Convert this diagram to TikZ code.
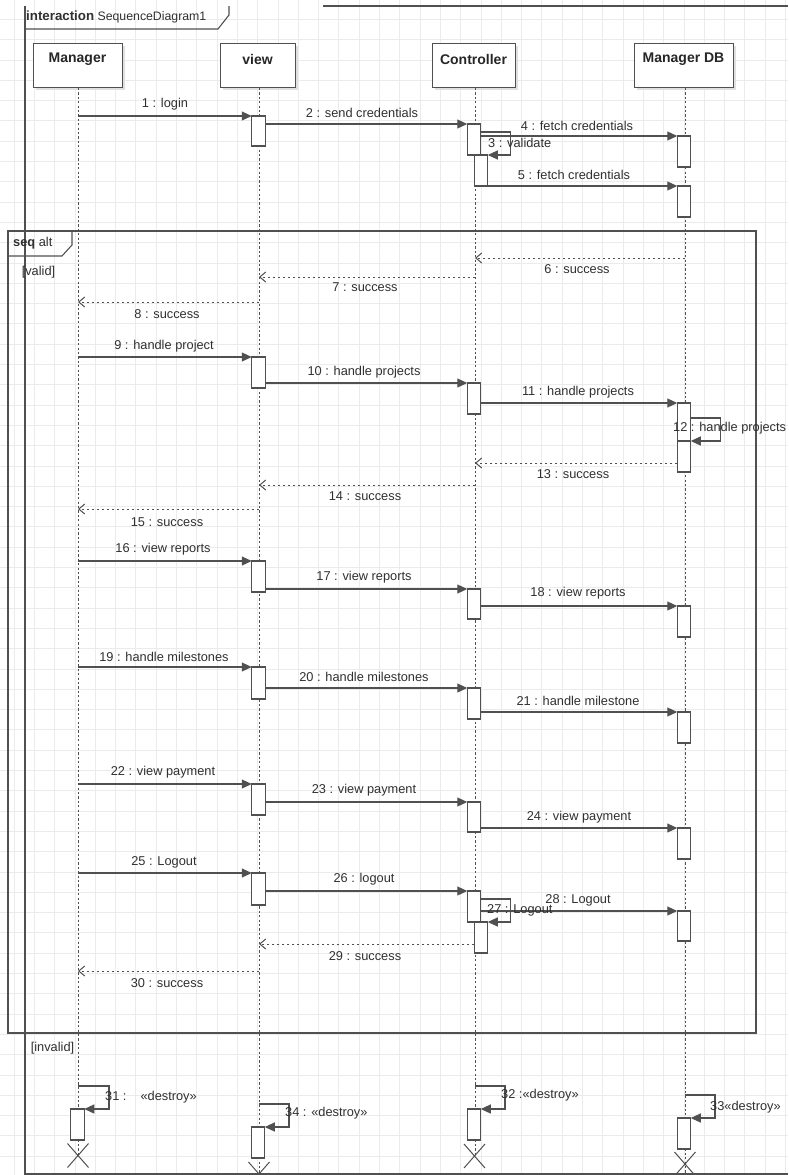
\documentclass[tikz,border=0pt]{standalone}
\usepackage{fontspec}
\setmainfont{Liberation Sans}
\usetikzlibrary{arrows.meta,shapes.misc}
\definecolor{lc}{HTML}{505050}
\definecolor{gridc}{HTML}{EBEBEB}
\definecolor{txt}{HTML}{303030}
\begin{document}
\begin{tikzpicture}[x=1pt,y=-1pt,
  every node/.style={font=\fontsize{12.8}{15}\selectfont, text=txt},
  lbl/.style={inner sep=0},
  head/.style={inner sep=0, font=\fontsize{14}{16}\bfseries\selectfont, text=black!85},
  obj/.style={draw=lc, fill=white, line width=1.1pt, inner sep=0, anchor=north west},
  shadow/.style={fill=black!12},
  act/.style={draw=lc, fill=white, line width=1.1pt, minimum width=13.5, minimum height=31, inner sep=0, outer sep=0, anchor=north},
  life/.style={draw=lc, line width=1pt, dash pattern=on 2.2pt off 2.2pt},
  msg/.style={draw=lc, line width=1.1pt, -{Triangle[length=10pt,width=9pt]}},
  ret/.style={draw=lc, line width=1pt, dash pattern=on 2.5pt off 2.5pt, -{Straight Barb[length=6pt,width=10pt]}},
  frame/.style={draw=lc, line width=1.1pt},
  xmark/.style={draw=lc, cross out, line width=1pt, minimum width=20, minimum height=23, inner sep=0}
]
\useasboundingbox (0,0) rectangle (788,1175);
\fill[white] (0,0) rectangle (788,1175);
\clip (0,0) rectangle (788,1175);
% grid
\foreach \i in {0,...,38} \draw[gridc, line width=0.8pt] (14+20.3*\i,0) -- (14+20.3*\i,1175);
\foreach \i in {0,...,58} \draw[gridc, line width=0.8pt] (0,19.3+20.3*\i) -- (788,19.3+20.3*\i);

% interaction frame
\draw[frame] (25,6) -- (25,1174) -- (788,1174);
\draw[frame] (323,6) -- (788,6);
\draw[frame] (229,6) -- (229,15) -- (218,29) -- (25,29);
\node[lbl, anchor=west] (ttl) at (26,17) {\fontsize{13.3}{15}\bfseries interaction\fontsize{12.3}{15}\mdseries\ SequenceDiagram1};

% alt frame
\draw[frame] (8,231) rectangle (756,1033);
\draw[frame] (72,231) -- (72,245) -- (62,256) -- (8,256);
\node[lbl, anchor=west] (alt) at (13,243) {\bfseries seq\mdseries\ alt};
\node[lbl] (g1) at (38.5,272) {[valid]};
\node[lbl] (g2) at (52.5,1048) {[invalid]};

% lifeline heads
\fill[shadow] (36,46) rectangle (125,90);
\node[obj, minimum width=89, minimum height=44] (mgr) at (33,43) {};
\fill[shadow] (223,46) rectangle (298,90);
\node[obj, minimum width=75, minimum height=44] (view) at (220,43) {};
\fill[shadow] (435,46) rectangle (518,90);
\node[obj, minimum width=83, minimum height=44] (ctl) at (432,43) {};
\fill[shadow] (637,46) rectangle (736,90);
\node[obj, minimum width=99, minimum height=44] (db) at (634,43) {};
\node[head] (mgrT) at (77.5,59) {Manager};
\node[head] (viewT) at (257.5,59) {view};
\node[head] (ctlT) at (473.5,59) {Controller};
\node[head] (dbT) at (683.5,59) {Manager DB};

\coordinate (Ml) at (78,88);
\coordinate (Vl) at (259,88);
\coordinate (Cl) at (475,88);
\coordinate (Dl) at (685,88);
\draw[life] (Ml) -- (Ml |- 0,1155);
\draw[life] (Vl) -- (Vl |- 0,1175);
\draw[life] (Cl) -- (Cl |- 0,1156);
\draw[life] (Dl) -- (Dl |- 0,1175);

% activations
\node[act, minimum height=30] (v1) at (258.5,116) {};
\node[act] (c1) at (474,124) {};
\node[act] (c1b) at (481,155) {};
\node[act] (d1) at (684,136) {};
\node[act] (d2) at (684,186) {};
\node[act] (v2) at (258.5,357) {};
\node[act] (c2) at (474,383) {};
\node[act, minimum height=38] (d3) at (684,403) {};
\node[act] (d3b) at (684,441) {};
\node[act] (v3) at (258.5,561) {};
\node[act, minimum height=30] (c3) at (474,589) {};
\node[act] (d4) at (684,606) {};
\node[act, minimum height=32] (v4) at (258.5,667) {};
\node[act] (c4) at (474,688) {};
\node[act] (d5) at (684,712) {};
\node[act] (v5) at (258.5,784) {};
\node[act, minimum height=30] (c5) at (474,802) {};
\node[act] (d6) at (684,828) {};
\node[act, minimum height=32] (v6) at (258.5,873) {};
\node[act, minimum height=31] (c6) at (474,891) {};
\node[act] (c6b) at (481,922) {};
\node[act, minimum height=30] (d7) at (684,911) {};
\node[act] (mE) at (77.5,1109) {};
\node[act] (vE) at (258,1127) {};
\node[act] (cE) at (474,1109) {};
\node[act] (dE) at (684,1118) {};

% destroy marks
\node[xmark] (mX) at (78,1155.5) {};
\node[xmark] (vX) at (259,1174) {};
\node[xmark] (cX) at (474.5,1156) {};
\node[xmark] (dX) at (685,1164) {};

% messages
\draw[msg] (Ml |- v1.north) -- (v1.north west);
\draw[msg] (v1.east |- c1.north) -- (c1.north west);
\draw[msg] (c1.east |- 0,132) -- ++(30,0) |- (c1b.north east);
\draw[msg] (c1.east |- d1.north) -- (d1.north west);
\draw[msg] (c1b.south east) -- (d2.north west);
\draw[ret] (Dl |- 0,258) -- (Cl |- 0,258);
\draw[ret] (Cl |- 0,277) -- (Vl |- 0,277);
\draw[ret] (Vl |- 0,302) -- (Ml |- 0,302);
\draw[msg] (Ml |- v2.north) -- (v2.north west);
\draw[msg] (v2.east |- c2.north) -- (c2.north west);
\draw[msg] (c2.east |- d3.north) -- (d3.north west);
\draw[msg] (d3.east |- 0,418) -- ++(30,0) |- (d3b.north east);
\draw[ret] (d3b.west |- 0,463) -- (Cl |- 0,463);
\draw[ret] (Cl |- 0,485) -- (Vl |- 0,485);
\draw[ret] (Vl |- 0,509) -- (Ml |- 0,509);
\draw[msg] (Ml |- v3.north) -- (v3.north west);
\draw[msg] (v3.east |- c3.north) -- (c3.north west);
\draw[msg] (c3.east |- d4.north) -- (d4.north west);
\draw[msg] (Ml |- v4.north) -- (v4.north west);
\draw[msg] (v4.east |- c4.north) -- (c4.north west);
\draw[msg] (c4.east |- d5.north) -- (d5.north west);
\draw[msg] (Ml |- v5.north) -- (v5.north west);
\draw[msg] (v5.east |- c5.north) -- (c5.north west);
\draw[msg] (c5.east |- d6.north) -- (d6.north west);
\draw[msg] (Ml |- v6.north) -- (v6.north west);
\draw[msg] (v6.east |- c6.north) -- (c6.north west);
\draw[msg] (c6.east |- 0,899) -- ++(30,0) |- (c6b.north east);
\draw[msg] (c6.east |- d7.north) -- (d7.north west);
\draw[ret] (c6b.west |- 0,944) -- (Vl |- 0,944);
\draw[ret] (Vl |- 0,971) -- (Ml |- 0,971);
\draw[msg] (Ml |- 0,1086) -- ++(31,0) |- (mE.north east);
\draw[msg] (Vl |- 0,1104) -- ++(30,0) |- (vE.north east);
\draw[msg] (Cl |- 0,1086) -- ++(30,0) |- (cE.north east);
\draw[msg] (Dl |- 0,1095) -- ++(30,0) |- (dE.north east);

% labels
\node[lbl] (l1) at (165,104) {1 : login};
\node[lbl] (l2) at (362,113) {2 : send credentials};
\node[lbl, anchor=west] (l3) at (488,143) {3 : validate};
\node[lbl] (l4) at (577,126) {4 : fetch credentials};
\node[lbl] (l5) at (574,175) {5 : fetch credentials};
\node[lbl] (l6) at (577,269) {6 : success};
\node[lbl] (l7) at (365,287) {7 : success};
\node[lbl] (l8) at (167,314) {8 : success};
\node[lbl] (l9) at (164,346) {9 : handle project};
\node[lbl] (l10) at (364,372) {10 : handle projects};
\node[lbl] (l11) at (578,392) {11 : handle projects};
\node[lbl, anchor=west] (l12) at (673,428) {12 : handle projects};
\node[lbl] (l13) at (573,474) {13 : success};
\node[lbl] (l14) at (365,496) {14 : success};
\node[lbl] (l15) at (167,522) {15 : success};
\node[lbl] (l16) at (163,549) {16 : view reports};
\node[lbl] (l17) at (364,577) {17 : view reports};
\node[lbl] (l18) at (578,593) {18 : view reports};
\node[lbl] (l19) at (164,657) {19 : handle milestones};
\node[lbl] (l20) at (364,677) {20 : handle milestones};
\node[lbl] (l21) at (578,701) {21 : handle milestone};
\node[lbl] (l22) at (163,772) {22 : view payment};
\node[lbl] (l23) at (364,790) {23 : view payment};
\node[lbl] (l24) at (579,817) {24 : view payment};
\node[lbl] (l25) at (164,862) {25 : Logout};
\node[lbl] (l26) at (364,879) {26 : logout};
\node[lbl, anchor=west] (l27) at (487,910) {27 : Logout};
\node[lbl] (l28) at (578,900) {28 : Logout};
\node[lbl] (l29) at (365,956) {29 : success};
\node[lbl] (l30) at (167,983) {30 : success};
\node[lbl, anchor=west] (l31) at (105,1097) {31 :\hspace{14pt}«destroy»};
\node[lbl, anchor=west] (l32) at (501,1095) {32 :«destroy»};
\node[lbl, anchor=west] (l33) at (710,1107) {33«destroy»};
\node[lbl, anchor=west] (l34) at (285,1113) {34 : «destroy»};
\end{tikzpicture}
\end{document}
